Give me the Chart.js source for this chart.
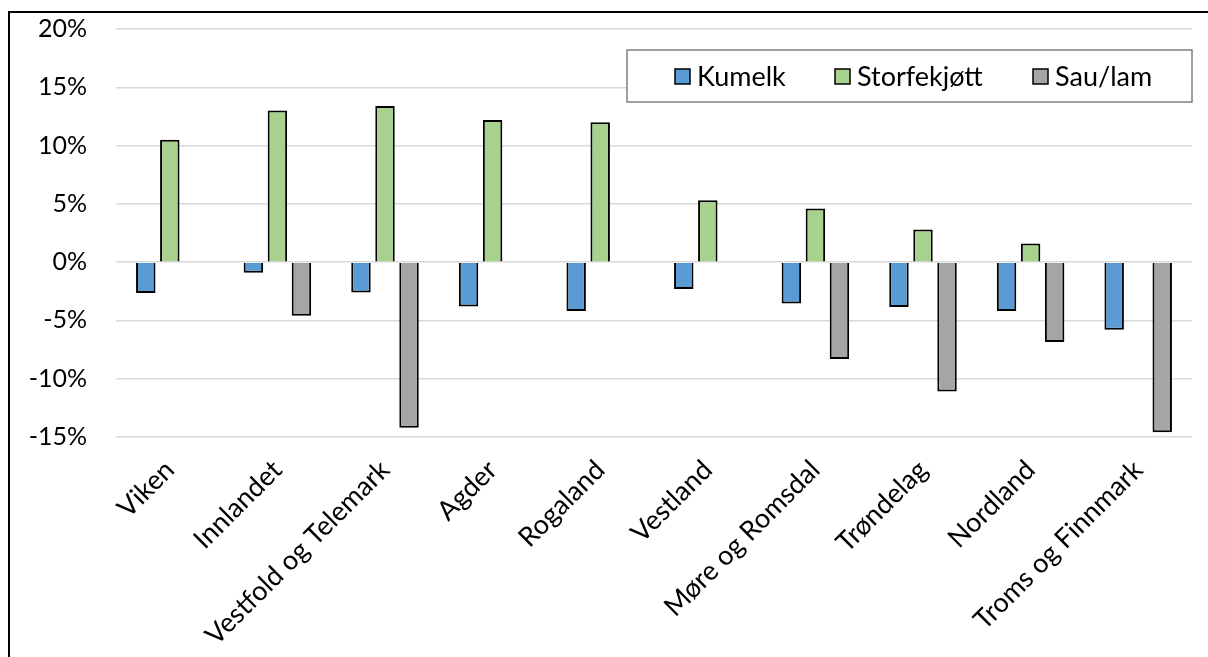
<!DOCTYPE html>
<html>
<head>
<meta charset="utf-8">
<script src="https://cdn.jsdelivr.net/npm/chart.js@4.4.1/dist/chart.umd.min.js"></script>
<style>
  html, body { margin: 0; padding: 0; background: #fff; }
  #wrap { position: relative; width: 1208px; height: 657px; overflow: hidden; }
  #frame { position: absolute; left: 8px; top: 11px; width: 1300px; height: 800px;
           border: 2px solid #000; box-sizing: border-box; pointer-events: none; }
  canvas { position: absolute; left: 0; top: 0; }
</style>
</head>
<body>
<div id="wrap">
  <canvas id="c" width="1208" height="657"></canvas>
  <div id="frame"></div>
</div>
<script>
// Regions
const regions = ['Viken', 'Innlandet', 'Vestfold og Telemark', 'Agder', 'Rogaland',
  'Vestland', 'Møre og Romsdal', 'Trøndelag', 'Nordland', 'Troms og Finnmark'];

// Change per region, percent
const kumelk = [-2.65, -0.9, -2.6, -3.8, -4.2, -2.3, -3.55, -3.85, -4.2, -5.8];
const storfekjott = [10.5, 13.0, 13.4, 12.2, 12.0, 5.3, 4.6, 2.8, 1.6, null];
const sauLam = [null, -4.6, -14.2, null, null, null, -8.3, -11.1, -6.85, -14.6];

const seriesNames = ['Kumelk', 'Storfekjøtt', 'Sau/lam'];
const seriesColors = ['#5B9BD5', '#A9D18E', '#A5A5A5'];

// y axis ticks
const yMin = -15, yMax = 20, yStep = 5;

const FONT = 'Lato, "Open Sans", sans-serif';

// Legend box drawn inside the plot area
const boxLegend = {
  id: 'boxLegend',
  afterDraw(chart) {
    const ctx = chart.ctx;
    const x0 = 627, y0 = 50, w = 565, h = 52;
    ctx.save();
    ctx.fillStyle = '#fff';
    ctx.fillRect(x0, y0, w, h);
    ctx.strokeStyle = '#808080';
    ctx.lineWidth = 1.5;
    ctx.strokeRect(x0, y0, w, h);
    const itemX = [675, 835, 1033];
    ctx.font = '27px ' + FONT;
    ctx.textBaseline = 'middle';
    chart.data.datasets.forEach((ds, i) => {
      const sx = itemX[i], sy = 69;
      ctx.fillStyle = ds.backgroundColor;
      ctx.fillRect(sx, sy, 15, 15);
      ctx.strokeStyle = '#000';
      ctx.lineWidth = 1.5;
      ctx.strokeRect(sx, sy, 15, 15);
      ctx.fillStyle = '#000';
      ctx.fillText(ds.label, sx + 22, 77);
    });
    ctx.restore();
  }
};

new Chart(document.getElementById('c'), {
  type: 'bar',
  data: {
    labels: regions,
    datasets: [
      { label: seriesNames[0], data: kumelk, backgroundColor: seriesColors[0] },
      { label: seriesNames[1], data: storfekjott, backgroundColor: seriesColors[1] },
      { label: seriesNames[2], data: sauLam, backgroundColor: seriesColors[2] }
    ].map(d => Object.assign(d, {
      borderColor: '#000', borderWidth: 2,
      categoryPercentage: 0.67, barPercentage: 0.81
    }))
  },
  options: {
    responsive: false,
    animation: false,
    devicePixelRatio: 1,
    layout: { padding: { top: 29, right: 16, left: 0, bottom: 0 } },
    plugins: { legend: { display: false }, tooltip: { enabled: false } },
    scales: {
      x: {
        grid: { display: false },
        border: { display: false },
        ticks: {
          color: '#000', font: { family: FONT, size: 27 },
          minRotation: 45, maxRotation: 45, autoSkip: false, padding: 9
        },
        afterFit(scale) { scale.height = 220; }
      },
      y: {
        min: yMin, max: yMax,
        grid: {
          color: '#D9D9D9', lineWidth: 1.5,
          drawTicks: true, tickLength: 29, tickColor: 'rgba(0,0,0,0)'
        },
        border: { display: false },
        ticks: {
          stepSize: yStep, color: '#000', padding: 0,
          font: { family: FONT, size: 25 },
          callback: v => v + '%'
        },
        afterFit(scale) { scale.width = 116; }
      }
    }
  },
  plugins: [boxLegend]
});
</script>
</body>
</html>
